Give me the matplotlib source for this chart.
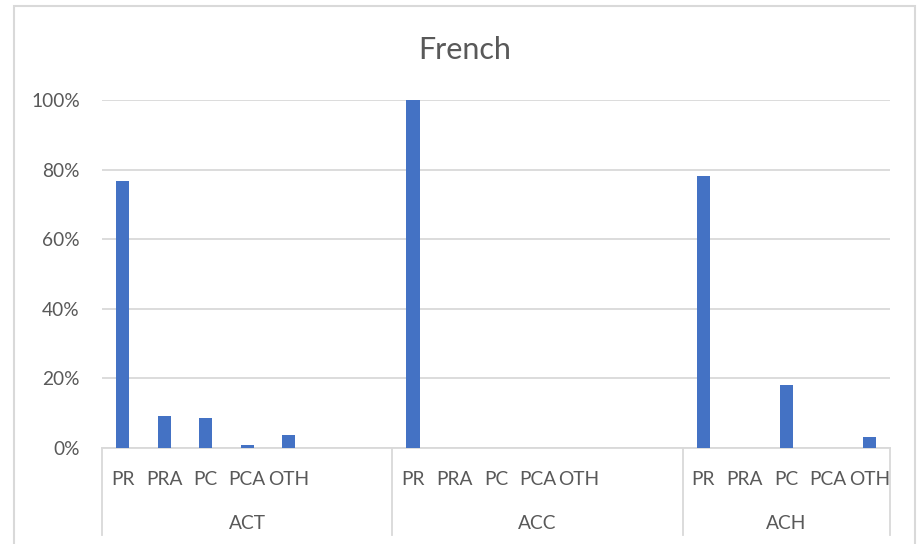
import numpy as np
import matplotlib
matplotlib.use('Agg')
import matplotlib.pyplot as plt
import matplotlib.transforms as mtransforms
from matplotlib.patches import Rectangle

plt.rcParams['font.family'] = ['Lato', 'DejaVu Sans']

# data (share, %)
groups = ['ACT', 'ACC', 'ACH']
subcats = ['PR', 'PRA', 'PC', 'PCA', 'OTH']
group_slots = [7, 7, 5]   # ACT and ACC carry two blank categories each
act = [76.7, 9.1, 8.5, 0.9, 3.6]
acc = [100.0, 0, 0, 0, 0]
ach = [78.1, 0, 18.2, 0, 3.2]
values = [act, acc, ach]

text_col = '#595959'
grid_col = '#d9d9d9'
bar_col = '#4472C4'

fig = plt.figure(figsize=(9.18, 5.44), dpi=100)
ax = fig.add_axes([102/918, 1-448/544, (890-102)/918, (448-100)/544])

# build positions
xs, ys, starts = [], [], []
pos = 0
for n, vals in zip(group_slots, values):
    starts.append(pos)
    for i, v in enumerate(vals):
        xs.append(pos + i)
        ys.append(v / 100)
    pos += n
total = pos

ax.bar(xs, ys, width=0.32, color=bar_col, zorder=3)

ax.set_xlim(-0.5, total - 0.5)
ax.set_ylim(0, 1)
ax.set_yticks(np.arange(0, 1.01, 0.2))
ax.set_yticklabels(['%d%%' % (t * 100) for t in np.arange(0, 1.01, 0.2)])
ax.tick_params(axis='y', length=0, pad=16, labelsize=13.8, labelcolor=text_col)
ax.set_xticks([])
ax.grid(axis='y', color=grid_col, lw=1.3, zorder=0)
for s in ['top', 'right', 'left']:
    ax.spines[s].set_visible(False)
ax.spines['bottom'].set_color(grid_col)
ax.spines['bottom'].set_linewidth(1.3)

trans = mtransforms.blended_transform_factory(ax.transData, ax.transAxes)
for g, st, n in zip(groups, starts, group_slots):
    for i, lab in enumerate(subcats):
        ax.text(st + i, -0.1063, lab, transform=trans, ha='center', va='baseline',
                fontsize=13.8, color=text_col)
    ax.text(st + (n - 1) / 2, -0.2328, g, transform=trans, ha='center', va='baseline',
            fontsize=13.8, color=text_col)
# category dividers
for b in [-0.5] + [st + n - 0.5 for st, n in zip(starts, group_slots)]:
    ax.plot([b, b], [0, -0.25], transform=trans, color=grid_col, lw=1.3, clip_on=False)

fig.text(464.5/918, 1-59.3/544, 'French', ha='center', va='baseline',
         fontsize=22, color=text_col)

# chart frame
fig.patches.append(Rectangle((14/918, -0.05), (915-14)/918, 1.05 - 6/544,
                             transform=fig.transFigure, fill=False,
                             edgecolor=grid_col, lw=1.5))

fig.savefig('out.png', dpi=100, facecolor='white')
